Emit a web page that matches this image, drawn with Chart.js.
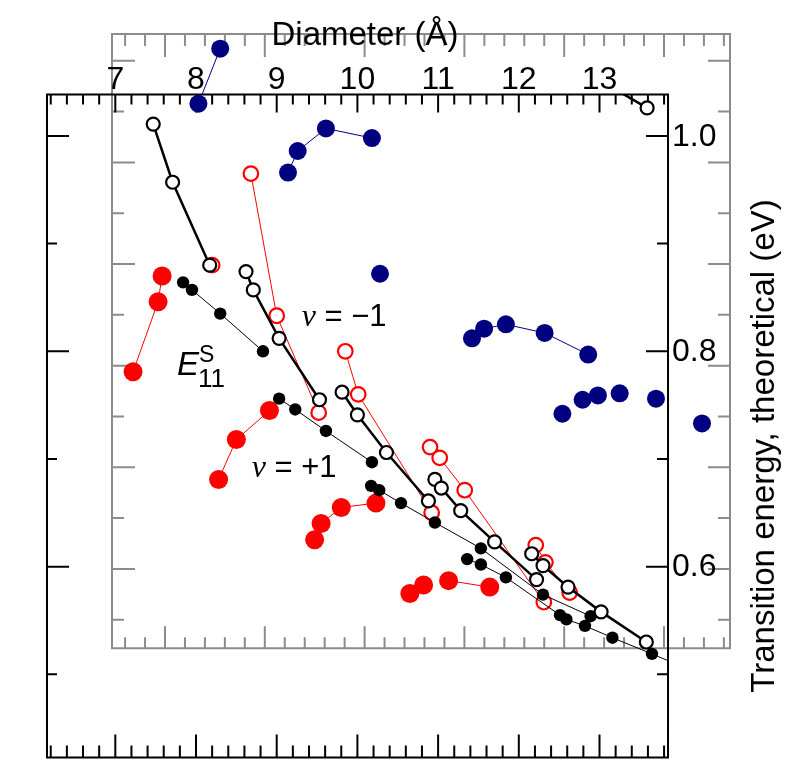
<!DOCTYPE html>
<html>
<head>
<meta charset="utf-8">
<script src="https://cdn.jsdelivr.net/npm/chart.js@4.4.1/dist/chart.umd.min.js"></script>
<style>
  html, body { margin: 0; padding: 0; background: #fff; }
  canvas { display: block; }
</style>
</head>
<body>
<canvas id="chart" width="788" height="767"></canvas>
<script>
// Tick labels
const diameterTicks = [7, 8, 9, 10, 11, 12, 13];
const energyTicks = [0.6, 0.8, 1.0];

// Diameter (Å) and transition energy (eV) per series; null breaks the line
const openBlackD = [7.47, 7.71, 8.17, null, 8.62, 8.71, 9.03, 9.53, null, 9.81, 10.00, 10.36, 10.88, null,
  10.96, 11.04, 11.28, 11.70, 12.22, null, 12.16, 12.30, 12.61, 13.02, 13.58, null, 12.88, 13.59];
const openBlackE = [1.011, 0.957, 0.880, null, 0.874, 0.857, 0.812, 0.755, null, 0.762, 0.741, 0.706, 0.661, null,
  0.681, 0.673, 0.652, 0.623, 0.588, null, 0.612, 0.601, 0.581, 0.558, 0.530, null, 1.057, 1.026];

const filledBlackD = [7.84, 7.95, 8.30, 8.83, null, 9.03, 9.23, 9.61, 10.18, null,
  10.17, 10.27, 10.54, 10.96, 11.53, 12.30, 12.89, null,
  11.36, 11.53, 11.84, 12.51, 12.59, 12.82, 13.16, 13.65, 14.25];
const filledBlackE = [0.864, 0.857, 0.835, 0.800, null, 0.756, 0.746, 0.726, 0.697, null,
  0.675, 0.671, 0.659, 0.641, 0.617, 0.574, 0.554, null,
  0.607, 0.602, 0.590, 0.555, 0.551, 0.545, 0.534, 0.519, 0.500];

const openRedD = [8.68, 9.00, 9.52, null, 8.20, null, 9.85, 10.01, 10.92, null,
  10.90, 11.02, 11.33, 12.31, null, 12.21, 12.33, 12.63];
const openRedE = [0.965, 0.833, 0.743, null, 0.880, null, 0.800, 0.760, 0.650, null,
  0.711, 0.701, 0.671, 0.567, null, 0.620, 0.604, 0.576];

const filledRedD = [7.22, 7.53, 7.58, null, 8.28, 8.50, 8.91, null, 9.47, 9.55, 9.80, 10.23, null,
  10.65, 10.82, null, 11.13, 11.64];
const filledRedE = [0.781, 0.846, 0.870, null, 0.681, 0.718, 0.745, null, 0.625, 0.640, 0.655, 0.659, null,
  0.575, 0.583, null, 0.587, 0.581];

const navyD = [8.03, 8.30, null, 9.14, 9.26, 9.61, 10.18, null, 10.28, null,
  11.42, 11.57, 11.84, 12.32, 12.86, null, 12.54, null, 12.79, null, 12.98, null, 13.25, null, 13.70, null, 14.27];
const navyE = [1.030, 1.081, null, 0.966, 0.986, 1.007, 0.998, null, 0.872, null,
  0.812, 0.821, 0.825, 0.817, 0.797, null, 0.742, null, 0.755, null, 0.759, null, 0.761, null, 0.756, null, 0.733];

const toPoints = (d, e) => d.map((v, i) => ({ x: v, y: e[i] }));

const GRAY = '#8c8c8c';
const SANS = '"Liberation Sans", Arial, sans-serif';

// frame edges in axis units
const blackFrame = { left: 6.1536, right: 13.849, bottom: 0.42276, top: 1.0384 };
const grayFrame = { left: -0.5311, right: 5.6613, bottom: -0.78125, top: 5.2637 };

// clip boxes relative to the chart area (px)
const blackClip = { left: 0, top: -61, right: -62, bottom: 0 };
const grayClip = { left: -65, top: 0, right: 0, bottom: -110 };

function hTicks(ctx, scale, lo, hi, step, per, yEdge, dir, minor, major) {
  for (let k = Math.ceil(lo / step + 1e-6); k * step < hi - 1e-6; k++) {
    const px = scale.getPixelForValue(k * step);
    const len = ((k % per) + per) % per === 0 ? major : minor;
    ctx.moveTo(px, yEdge);
    ctx.lineTo(px, yEdge + dir * len);
  }
}

function vTicks(ctx, scale, lo, hi, step, per, xEdge, dir, minor, major) {
  for (let k = Math.ceil(lo / step + 1e-6); k * step < hi - 1e-6; k++) {
    const py = scale.getPixelForValue(k * step);
    const len = ((k % per) + per) % per === 0 ? major : minor;
    ctx.moveTo(xEdge, py);
    ctx.lineTo(xEdge + dir * len, py);
  }
}

const frames = {
  id: 'frames',
  beforeDatasetsDraw(chart) {
    const { ctx, scales: { x, y, xg, yg } } = chart;
    ctx.save();
    ctx.lineWidth = 2;
    ctx.lineCap = 'butt';

    // gray frame
    let L = xg.getPixelForValue(grayFrame.left), R = xg.getPixelForValue(grayFrame.right);
    let T = yg.getPixelForValue(grayFrame.top), B = yg.getPixelForValue(grayFrame.bottom);
    ctx.strokeStyle = GRAY;
    ctx.beginPath();
    ctx.rect(L, T, R - L, B - T);
    hTicks(ctx, xg, grayFrame.left, grayFrame.right, 0.2, 5, T, 1, 12, 23);
    hTicks(ctx, xg, grayFrame.left, grayFrame.right, 0.2, 5, B, -1, 11, 22);
    vTicks(ctx, yg, grayFrame.bottom, grayFrame.top, 0.5, 2, L, 1, 12, 23);
    vTicks(ctx, yg, grayFrame.bottom, grayFrame.top, 0.5, 2, R, -1, 12, 22);
    ctx.stroke();

    // black frame
    L = x.getPixelForValue(blackFrame.left); R = x.getPixelForValue(blackFrame.right);
    T = y.getPixelForValue(blackFrame.top); B = y.getPixelForValue(blackFrame.bottom);
    ctx.strokeStyle = '#000';
    ctx.beginPath();
    ctx.rect(L, T, R - L, B - T);
    hTicks(ctx, x, blackFrame.left, blackFrame.right, 0.2, 5, T, 1, 10, 18);
    hTicks(ctx, x, blackFrame.left, blackFrame.right, 0.2, 5, B, -1, 12, 23);
    vTicks(ctx, y, blackFrame.bottom, blackFrame.top, 0.1, 2, L, 1, 10, 22);
    vTicks(ctx, y, blackFrame.bottom, blackFrame.top, 0.1, 2, R, -1, 11, 22);
    ctx.stroke();
    ctx.restore();
  },
  afterDatasetsDraw(chart) {
    const { ctx, scales: { x, y } } = chart;
    const T = y.getPixelForValue(blackFrame.top);
    const R = x.getPixelForValue(blackFrame.right);
    ctx.save();
    ctx.fillStyle = '#000';

    // tick labels
    ctx.font = '32px ' + SANS;
    ctx.textAlign = 'center';
    ctx.textBaseline = 'alphabetic';
    diameterTicks.forEach(v => ctx.fillText(String(v), x.getPixelForValue(v), T - 6));
    ctx.textAlign = 'left';
    ctx.textBaseline = 'middle';
    energyTicks.forEach(v => ctx.fillText(v.toFixed(1), R + 4, y.getPixelForValue(v) + 1));

    // axis titles
    ctx.font = '33px ' + SANS;
    ctx.textAlign = 'center';
    ctx.textBaseline = 'alphabetic';
    ctx.fillText('Diameter (\u00c5)', 365, 45);
    ctx.save();
    ctx.translate(774, 446);
    ctx.rotate(-Math.PI / 2);
    ctx.fillText('Transition energy, theoretical (eV)', 0, 0);
    ctx.restore();

    // in-plot notes
    ctx.textAlign = 'left';
    const nu = (d, e, rest) => {
      let px = x.getPixelForValue(d);
      const py = y.getPixelForValue(e);
      ctx.font = 'italic 32px "Liberation Serif", serif';
      ctx.fillText('\u03bd', px, py);
      px += ctx.measureText('\u03bd').width;
      ctx.font = '31px ' + SANS;
      ctx.fillText(rest, px, py);
    };
    nu(9.31, 0.8237, ' = \u22121');
    nu(8.69, 0.6836, ' = +1');

    const ex = x.getPixelForValue(7.765), ey = y.getPixelForValue(0.7776);
    ctx.font = 'italic 33px ' + SANS;
    ctx.fillText('E', ex, ey);
    ctx.font = '23px ' + SANS;
    ctx.fillText('S', ex + 22, ey - 13);
    ctx.font = '26px ' + SANS;
    ctx.fillText('11', ex + 21, ey + 12);
    ctx.restore();
  }
};

new Chart(document.getElementById('chart'), {
  type: 'scatter',
  data: {
    datasets: [
      {
        data: toPoints(openBlackD, openBlackE), xAxisID: 'x', yAxisID: 'y',
        showLine: true, borderColor: '#000', borderWidth: 2.5,
        pointRadius: 6.5, pointBorderWidth: 2.2, pointBorderColor: '#000', pointBackgroundColor: '#fff',
        clip: blackClip
      },
      {
        data: toPoints(filledBlackD, filledBlackE), xAxisID: 'x', yAxisID: 'y',
        showLine: true, borderColor: '#000', borderWidth: 1,
        pointRadius: 6.2, pointBorderWidth: 0, pointBackgroundColor: '#000',
        clip: blackClip
      },
      {
        data: toPoints(openRedD, openRedE), xAxisID: 'x', yAxisID: 'y',
        showLine: true, borderColor: '#ff0000', borderWidth: 1,
        pointRadius: 7.3, pointBorderWidth: 2.2, pointBorderColor: '#ff0000', pointBackgroundColor: '#fff',
        clip: blackClip
      },
      {
        data: toPoints(filledRedD, filledRedE), xAxisID: 'x', yAxisID: 'y',
        showLine: true, borderColor: '#ff0000', borderWidth: 1,
        pointRadius: 9.5, pointBorderWidth: 0, pointBackgroundColor: '#ff0000',
        clip: blackClip
      },
      {
        data: toPoints(navyD, navyE), xAxisID: 'x', yAxisID: 'y',
        showLine: true, borderColor: '#000080', borderWidth: 1,
        pointRadius: 9, pointBorderWidth: 0, pointBackgroundColor: '#000080',
        clip: grayClip
      }
    ]
  },
  options: {
    responsive: false,
    animation: false,
    events: [],
    layout: { padding: { left: 47, top: 34, right: 58, bottom: 4 } },
    plugins: { legend: { display: false }, tooltip: { enabled: false } },
    scales: {
      x: { type: 'linear', display: false, min: 6.1536, max: 14.617 },
      y: { type: 'linear', display: false, min: 0.42276, max: 1.09466 },
      xg: { type: 'linear', axis: 'x', display: false, min: -1.1824, max: 5.6613 },
      yg: { type: 'linear', axis: 'y', display: false, min: -1.8555, max: 5.2637 }
    }
  },
  plugins: [frames]
});
</script>
</body>
</html>
